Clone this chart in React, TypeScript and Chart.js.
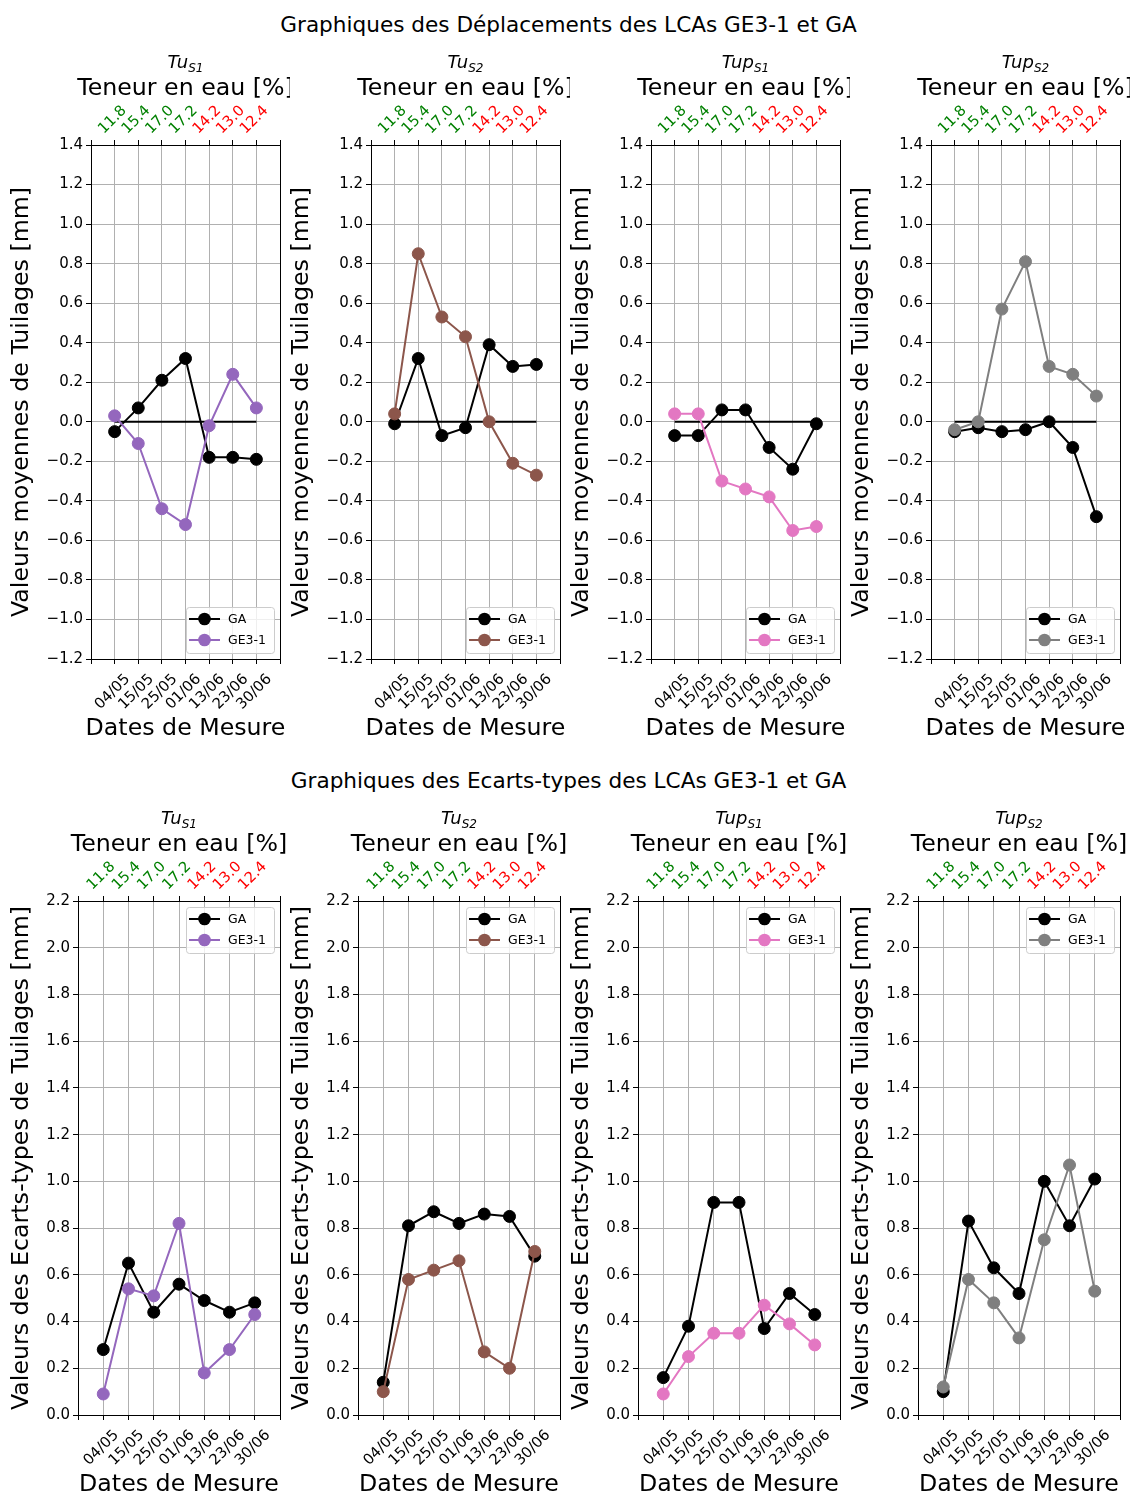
import React, { useEffect, useRef } from 'react';
import { Chart, registerables } from 'chart.js';

Chart.register(...registerables);

const FONT = "'DejaVu Sans', sans-serif";

// ---------- data ----------
const dates = ['04/05', '15/05', '25/05', '01/06', '13/06', '23/06', '30/06'];
const teneurEau = ['11.8', '15.4', '17.0', '17.2', '14.2', '13.0', '12.4'];
const nTeneurHausse = 4; // first four moisture values (rising) shown in green, the rest in red

const seriesNames = ['GA', 'GE3-1'];
const panelTitles = [
  ['Tu', 'S1'],
  ['Tu', 'S2'],
  ['Tup', 'S1'],
  ['Tup', 'S2'],
];

// Déplacements (valeurs moyennes de tuilages, mm)
const deplGA_TuS1 = [-0.05, 0.07, 0.21, 0.32, -0.18, -0.18, -0.19];
const deplGE_TuS1 = [0.03, -0.11, -0.44, -0.52, -0.02, 0.24, 0.07];
const deplGA_TuS2 = [-0.01, 0.32, -0.07, -0.03, 0.39, 0.28, 0.29];
const deplGE_TuS2 = [0.04, 0.85, 0.53, 0.43, 0.0, -0.21, -0.27];
const deplGA_TupS1 = [-0.07, -0.07, 0.06, 0.06, -0.13, -0.24, -0.01];
const deplGE_TupS1 = [0.04, 0.04, -0.3, -0.34, -0.38, -0.55, -0.53];
const deplGA_TupS2 = [-0.05, -0.03, -0.05, -0.04, 0.0, -0.13, -0.48];
const deplGE_TupS2 = [-0.04, 0.0, 0.57, 0.81, 0.28, 0.24, 0.13];

// Ecarts-types (mm)
const ecGA_TuS1 = [0.28, 0.65, 0.44, 0.56, 0.49, 0.44, 0.48];
const ecGE_TuS1 = [0.09, 0.54, 0.51, 0.82, 0.18, 0.28, 0.43];
const ecGA_TuS2 = [0.14, 0.81, 0.87, 0.82, 0.86, 0.85, 0.68];
const ecGE_TuS2 = [0.1, 0.58, 0.62, 0.66, 0.27, 0.2, 0.7];
const ecGA_TupS1 = [0.16, 0.38, 0.91, 0.91, 0.37, 0.52, 0.43];
const ecGE_TupS1 = [0.09, 0.25, 0.35, 0.35, 0.47, 0.39, 0.3];
const ecGA_TupS2 = [0.1, 0.83, 0.63, 0.52, 1.0, 0.81, 1.01];
const ecGE_TupS2 = [0.12, 0.58, 0.48, 0.33, 0.75, 1.07, 0.53];

const deplYTicks = { min: -1.2, max: 1.4, step: 0.2 };
const ecYTicks = { min: 0.0, max: 2.2, step: 0.2 };

const geColors = ['#9467bd', '#8c564b', '#e377c2', '#7f7f7f'];

const suptitleDepl = 'Graphiques des Déplacements des LCAs GE3-1 et GA';
const suptitleEc = 'Graphiques des Ecarts-types des LCAs GE3-1 et GA';
const xTitle = 'Dates de Mesure';
const topTitle = 'Teneur en eau [%]';
const yTitleDepl = 'Valeurs moyennes de Tuilages [mm]';
const yTitleEc = 'Valeurs des Ecarts-types de Tuilages [mm]';

const deplGA = [deplGA_TuS1, deplGA_TuS2, deplGA_TupS1, deplGA_TupS2];
const deplGE = [deplGE_TuS1, deplGE_TuS2, deplGE_TupS1, deplGE_TupS2];
const ecGA = [ecGA_TuS1, ecGA_TuS2, ecGA_TupS1, ecGA_TupS2];
const ecGE = [ecGE_TuS1, ecGE_TuS2, ecGE_TupS1, ecGE_TupS2];

// ---------- drawing helpers ----------
function fmtTick(v: number) {
  const n = Number(v);
  if (Math.abs(n) < 1e-9) return '0.0';
  const s = Math.abs(n).toFixed(1);
  return n < 0 ? '\u2212' + s : s;
}

const LABEL_SIZE = 23.7;

const decorPlugin = {
  id: 'decor',
  afterDraw(chart: any, _args: any, opts: any) {
    const ctx = chart.ctx as CanvasRenderingContext2D;
    const ca = chart.chartArea;
    const xs = chart.scales.x;
    ctx.save();

    // frame
    ctx.strokeStyle = '#000';
    ctx.lineWidth = 1;
    ctx.strokeRect(ca.left + 0.5, ca.top + 0.5, ca.right - ca.left, ca.bottom - ca.top);

    const cx = (ca.left + ca.right) / 2;

    // bottom date labels
    ctx.fillStyle = '#000';
    ctx.font = `14.8px ${FONT}`;
    ctx.textAlign = 'center';
    ctx.textBaseline = 'middle';
    dates.forEach((d, i) => {
      const px = xs.getPixelForValue(i);
      ctx.save();
      ctx.translate(px - 2, ca.bottom + 33);
      ctx.rotate(-Math.PI / 4);
      ctx.fillText(d, 0, 0);
      ctx.restore();
    });

    // top moisture labels
    teneurEau.forEach((t, i) => {
      const px = xs.getPixelForValue(i);
      ctx.save();
      ctx.fillStyle = i < nTeneurHausse ? '#008000' : '#ff0000';
      ctx.translate(px - 2, ca.top - 25);
      ctx.rotate(-Math.PI / 4);
      ctx.fillText(t, 0, 0);
      ctx.restore();
    });

    // "Teneur en eau [%]"
    ctx.fillStyle = '#000';
    ctx.textBaseline = 'alphabetic';
    ctx.font = `${LABEL_SIZE}px ${FONT}`;
    ctx.fillText(topTitle, cx, ca.top - 50);

    // panel title with subscript
    const [main, sub] = opts.title;
    ctx.font = `italic 18px ${FONT}`;
    const w1 = ctx.measureText(main).width;
    ctx.font = `italic 12px ${FONT}`;
    const w2 = ctx.measureText(sub).width;
    const x0 = cx - (w1 + w2) / 2;
    ctx.textAlign = 'left';
    ctx.font = `italic 18px ${FONT}`;
    ctx.fillText(main, x0, ca.top - 77);
    ctx.font = `italic 12px ${FONT}`;
    ctx.fillText(sub, x0 + w1, ca.top - 73.5);

    // x title
    ctx.textAlign = 'center';
    ctx.font = `${LABEL_SIZE}px ${FONT}`;
    ctx.fillText(xTitle, cx, ca.bottom + 76);

    // y title
    ctx.save();
    ctx.translate(22, (ca.top + ca.bottom) / 2);
    ctx.rotate(-Math.PI / 2);
    ctx.textBaseline = 'middle';
    ctx.fillText(opts.yTitle, 0, 0);
    ctx.restore();

    // legend
    const lw = 88;
    const lh = 46;
    const lx = ca.right - 6 - lw;
    const ly = opts.legendUpper ? ca.top + 6 : ca.bottom - 6 - lh;
    ctx.beginPath();
    (ctx as any).roundRect(lx + 0.5, ly + 0.5, lw, lh, 3);
    ctx.fillStyle = 'rgba(255,255,255,0.8)';
    ctx.fill();
    ctx.strokeStyle = '#cccccc';
    ctx.lineWidth = 1;
    ctx.stroke();
    const entries = [
      { label: seriesNames[0], color: '#000000' },
      { label: seriesNames[1], color: opts.geColor },
    ];
    entries.forEach((e, k) => {
      const ry = ly + 12 + k * 21;
      ctx.strokeStyle = e.color;
      ctx.lineWidth = 2;
      ctx.beginPath();
      ctx.moveTo(lx + 3, ry);
      ctx.lineTo(lx + 34, ry);
      ctx.stroke();
      ctx.fillStyle = e.color;
      ctx.beginPath();
      ctx.arc(lx + 18.5, ry, 6.3, 0, Math.PI * 2);
      ctx.fill();
      ctx.fillStyle = '#000';
      ctx.font = `12.5px ${FONT}`;
      ctx.textAlign = 'left';
      ctx.textBaseline = 'middle';
      ctx.fillText(e.label, lx + 42, ry + 0.5);
    });

    ctx.restore();
  },
};

type PanelProps = {
  left: number;
  top: number;
  width: number;
  height: number;
  plotLeft: number;
  plotTop: number;
  plotRight: number;
  plotBottom: number;
  yTicks: { min: number; max: number; step: number };
  ga: number[];
  ge: number[];
  geColor: string;
  title: string[];
  yTitle: string;
  legendUpper: boolean;
  zeroLine: boolean;
};

function Panel(p: PanelProps) {
  const ref = useRef<HTMLCanvasElement | null>(null);
  useEffect(() => {
    if (!ref.current) return;
    const datasets: any[] = [
      {
        label: seriesNames[1],
        data: p.ge.map((y, i) => ({ x: i, y })),
        borderColor: p.geColor,
        backgroundColor: p.geColor,
        pointBackgroundColor: p.geColor,
        pointBorderColor: p.geColor,
        borderWidth: 2,
        pointRadius: 6,
        pointBorderWidth: 1,
        tension: 0,
        order: 0,
      },
      {
        label: seriesNames[0],
        data: p.ga.map((y, i) => ({ x: i, y })),
        borderColor: '#000',
        backgroundColor: '#000',
        pointBackgroundColor: '#000',
        pointBorderColor: '#000',
        borderWidth: 2,
        pointRadius: 6,
        pointBorderWidth: 1,
        tension: 0,
        order: 1,
      },
    ];
    if (p.zeroLine) {
      datasets.push({
        label: 'zero',
        data: [
          { x: 0, y: 0 },
          { x: dates.length - 1, y: 0 },
        ],
        borderColor: '#000',
        borderWidth: 2,
        pointRadius: 0,
        tension: 0,
        order: 2,
      });
    }
    const topH = p.plotTop;
    const bottomH = p.height - p.plotBottom;
    const gridCommon = {
      color: '#b0b0b0',
      lineWidth: 1,
      drawTicks: true,
      tickLength: 5,
      tickColor: '#000',
      tickWidth: 1,
    };
    const chart = new Chart(ref.current, {
      type: 'line',
      data: { datasets },
      options: {
        responsive: false,
        animation: false,
        events: [],
        layout: { padding: { left: 0, top: 0, bottom: 0, right: p.width - p.plotRight } },
        plugins: {
          legend: { display: false },
          title: { display: false },
          tooltip: { enabled: false },
          decor: {
            title: p.title,
            yTitle: p.yTitle,
            legendUpper: p.legendUpper,
            geColor: p.geColor,
          },
        } as any,
        scales: {
          x: {
            type: 'linear',
            position: 'bottom',
            min: -1,
            max: dates.length,
            ticks: { stepSize: 1, display: false },
            grid: gridCommon,
            border: { display: true, color: '#000', width: 1 },
            afterFit: (s: any) => {
              s.height = bottomH;
            },
          },
          x2: {
            type: 'linear',
            position: 'top',
            min: -1,
            max: dates.length,
            ticks: { stepSize: 1, display: false },
            grid: { ...gridCommon, drawOnChartArea: false },
            border: { display: true, color: '#000', width: 1 },
            afterFit: (s: any) => {
              s.height = topH;
            },
          },
          y: {
            type: 'linear',
            position: 'left',
            min: p.yTicks.min,
            max: p.yTicks.max,
            ticks: {
              stepSize: p.yTicks.step,
              color: '#000',
              padding: 3,
              font: { family: FONT, size: 15 },
              callback: (v: any) => fmtTick(v),
            },
            grid: gridCommon,
            border: { display: true, color: '#000', width: 1 },
            afterFit: (s: any) => {
              s.width = p.plotLeft;
            },
          },
        } as any,
      },
      plugins: [decorPlugin],
    } as any);
    return () => chart.destroy();
  }, []);
  return (
    <canvas
      ref={ref}
      width={p.width}
      height={p.height}
      style={{ position: 'absolute', left: p.left, top: p.top, width: p.width, height: p.height }}
    />
  );
}

export default function App() {
  const colStep = 280;
  const canvasW = 290;
  const supStyle: React.CSSProperties = {
    position: 'absolute',
    left: 0,
    width: 1137,
    textAlign: 'center',
    fontSize: 21.6,
    lineHeight: '22px',
    color: '#000',
  };
  return (
    <div
      style={{
        position: 'absolute',
        left: 0,
        top: 0,
        width: 1137,
        height: 1495,
        background: '#fff',
        fontFamily: FONT,
        overflow: 'hidden',
      }}
    >
      <div style={{ ...supStyle, top: 14 }}>{suptitleDepl}</div>
      <div style={{ ...supStyle, top: 770 }}>{suptitleEc}</div>
      {panelTitles.map((t, c) => (
        <Panel
          key={'d' + c}
          left={c * colStep}
          top={40}
          width={canvasW}
          height={710}
          plotLeft={91}
          plotTop={105}
          plotRight={280}
          plotBottom={619}
          yTicks={deplYTicks}
          ga={deplGA[c]}
          ge={deplGE[c]}
          geColor={geColors[c]}
          title={t}
          yTitle={yTitleDepl}
          legendUpper={false}
          zeroLine={true}
        />
      ))}
      {panelTitles.map((t, c) => (
        <Panel
          key={'e' + c}
          left={c * colStep}
          top={795}
          width={canvasW}
          height={700}
          plotLeft={78}
          plotTop={106}
          plotRight={280}
          plotBottom={620}
          yTicks={ecYTicks}
          ga={ecGA[c]}
          ge={ecGE[c]}
          geColor={geColors[c]}
          title={t}
          yTitle={yTitleEc}
          legendUpper={true}
          zeroLine={false}
        />
      ))}
    </div>
  );
}
